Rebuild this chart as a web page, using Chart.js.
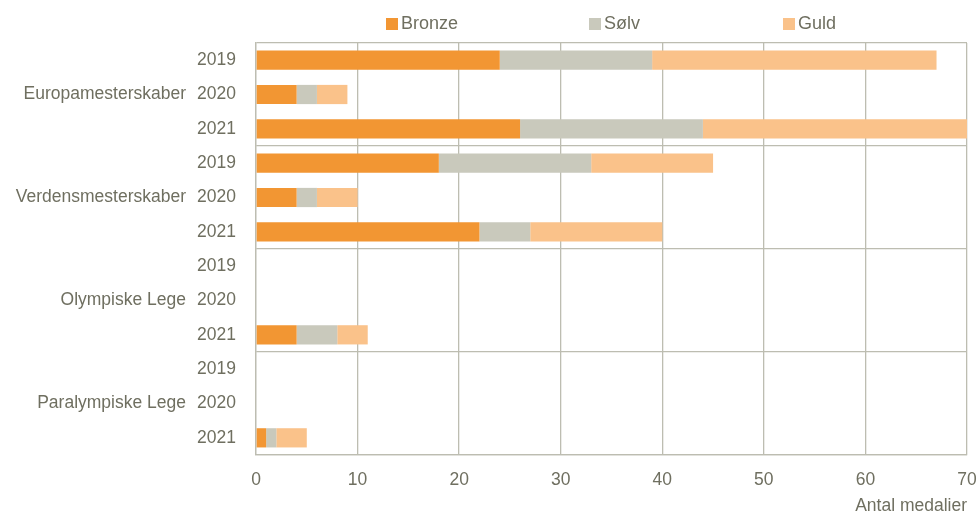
<!DOCTYPE html>
<html>
<head>
<meta charset="utf-8">
<script src="https://cdn.jsdelivr.net/npm/chart.js@4"></script>
<style>
  html, body { margin: 0; padding: 0; background: #fff; }
  #wrap { position: relative; width: 977px; height: 519px; }
  #legend { position: absolute; top: 13px; left: 0; width: 977px; height: 24px;
    font-family: 'Liberation Sans', Arial, sans-serif; font-size: 18px; color: #6f6f60; }
  .li { position: absolute; top: 0; display: flex; align-items: center; white-space: nowrap; }
  .sw { width: 12px; height: 12px; margin-right: 3px; }
</style>
</head>
<body>
<div id="wrap">
  <canvas id="c" width="977" height="519"></canvas>
  <div id="legend"></div>
</div>
<script>
const groups = ['Europamesterskaber', 'Verdensmesterskaber', 'Olympiske Lege', 'Paralympiske Lege'];
const years = ['2019', '2020', '2021'];
const seriesNames = ['Bronze', 'Sølv', 'Guld'];
const seriesColors = ['#F29633', '#C9C9BC', '#FAC28A'];
const bronze = [24, 4, 26, 18, 4, 22, 0, 0, 4, 0, 0, 1];
const solv   = [15, 2, 18, 15, 2, 5, 0, 0, 4, 0, 0, 1];
const guld   = [28, 3, 26, 12, 4, 13, 0, 0, 3, 0, 0, 3];
const xTicks = [0, 10, 20, 30, 40, 50, 60, 70];
const xTitle = 'Antal medalier';

const textColor = '#6f6f60';
const gridColor = '#bdbdb1';
const fontFamily = "'Liberation Sans', Arial, sans-serif";
const fontSize = 17.5;

const rowLabels = [];
const groupLabels = [];
groups.forEach(g => years.forEach((y, i) => { rowLabels.push(y); groupLabels.push(i === 1 ? g : ''); }));

const seriesData = [bronze, solv, guld];

// HTML legend
const legendPos = [386, 589, 783];
const legend = document.getElementById('legend');
seriesNames.forEach((n, i) => {
  const d = document.createElement('div');
  d.className = 'li';
  d.style.left = legendPos[i] + 'px';
  d.innerHTML = '<span class="sw" style="background:' + seriesColors[i] + '"></span><span>' + n + '</span>';
  legend.appendChild(d);
});

Chart.defaults.font.family = fontFamily;
Chart.defaults.font.size = fontSize;
Chart.defaults.color = textColor;

new Chart(document.getElementById('c'), {
  type: 'bar',
  data: {
    labels: rowLabels,
    datasets: seriesNames.map((n, i) => ({
      label: n,
      data: seriesData[i],
      backgroundColor: seriesColors[i],
      borderWidth: 0,
      categoryPercentage: 1,
      barPercentage: 0.56,
      yAxisID: 'y'
    }))
  },
  options: {
    indexAxis: 'y',
    responsive: false,
    animation: false,
    devicePixelRatio: 1,
    layout: { padding: { top: 43, right: 10, left: 0, bottom: 0 } },
    plugins: { legend: { display: false }, tooltip: { enabled: false } },
    scales: {
      x: {
        stacked: true,
        min: 0, max: 70,
        afterBuildTicks: s => { s.ticks = xTicks.map(v => ({ value: v })); },
        ticks: { padding: 15, color: textColor, font: { size: fontSize } },
        grid: { color: gridColor, lineWidth: 1.3, drawTicks: false },
        border: { color: gridColor, width: 1.3 },
        title: { display: true, text: xTitle, align: 'end', color: textColor, font: { size: fontSize }, padding: { top: 0, bottom: 2 } },
        afterFit: s => { s.height = 64; s.paddingLeft = 0; s.paddingRight = 0; }
      },
      y: {
        stacked: true,
        position: 'left',
        weight: 0,
        offset: true,
        grid: {
          offset: true,
          drawTicks: false,
          lineWidth: 1.3,
          color: ctx => (ctx.index === undefined || ctx.index % 3 === 0) ? gridColor : 'rgba(0,0,0,0)'
        },
        border: { color: gridColor, width: 1.3 },
        ticks: { padding: 20, color: textColor, font: { size: fontSize } },
        afterFit: s => { s.width = 66; s.paddingTop = 0; s.paddingBottom = 0; }
      },
      y2: {
        type: 'category',
        position: 'left',
        weight: 1,
        offset: true,
        labels: groupLabels,
        grid: { display: false, drawTicks: false },
        border: { display: false },
        ticks: { padding: 4, color: textColor, font: { size: fontSize }, autoSkip: false },
        afterFit: s => { s.width = 190; s.paddingTop = 0; s.paddingBottom = 0; }
      }
    }
  }
});
</script>
</body>
</html>
